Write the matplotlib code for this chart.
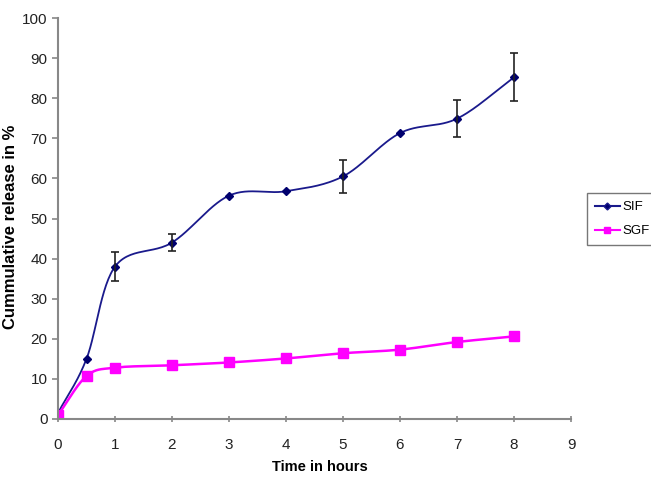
import numpy as np
import matplotlib.pyplot as plt

plt.rcParams['font.family'] = ['Liberation Sans', 'DejaVu Sans']

hours = [0, 0.5, 1, 2, 3, 4, 5, 6, 7, 8]
sif = [1.5, 15.0, 38.0, 44.0, 55.7, 56.8, 60.5, 71.3, 74.9, 85.2]
sif_err = [0, 0, 3.7, 2.2, 0, 0, 4.2, 0, 4.7, 6.0]
sgf = [1.0, 10.7, 12.8, 13.4, 14.1, 15.1, 16.4, 17.3, 19.2, 20.6]


def smooth(x, y, n=30):
    # Catmull-Rom style curve through the points (like Excel's smoothed line)
    x = np.asarray(x, float)
    y = np.asarray(y, float)
    px = np.concatenate([[2 * x[0] - x[1]], x, [2 * x[-1] - x[-2]]])
    py = np.concatenate([[2 * y[0] - y[1]], y, [2 * y[-1] - y[-2]]])
    xs, ys = [], []
    t = np.linspace(0, 1, n)
    for i in range(1, len(px) - 2):
        p0x, p1x, p2x, p3x = px[i - 1:i + 3]
        p0y, p1y, p2y, p3y = py[i - 1:i + 3]
        # bezier control points
        c1x = p1x + (p2x - p0x) / 6
        c1y = p1y + (p2y - p0y) / 6
        c2x = p2x - (p3x - p1x) / 6
        c2y = p2y - (p3y - p1y) / 6
        bx = (1 - t) ** 3 * p1x + 3 * (1 - t) ** 2 * t * c1x + 3 * (1 - t) * t ** 2 * c2x + t ** 3 * p2x
        by = (1 - t) ** 3 * p1y + 3 * (1 - t) ** 2 * t * c1y + 3 * (1 - t) * t ** 2 * c2y + t ** 3 * p2y
        xs.extend(bx)
        ys.extend(by)
    return xs, ys


fig = plt.figure(figsize=(6.51, 4.79), dpi=100)
ax = fig.add_axes([58 / 651, 60 / 479, 513 / 651, 401 / 479])

blue = '#1a1a8c'
pink = '#ff00ff'

sx, sy = smooth(hours, sif)
ax.plot(sx, sy, color=blue, lw=1.3)
ax.plot(hours, sif, 'D', color='#00006e', ms=4.5)
err_idx = [i for i, e in enumerate(sif_err) if e > 0]
ax.errorbar([hours[i] for i in err_idx], [sif[i] for i in err_idx],
            yerr=[sif_err[i] for i in err_idx], fmt='none', ecolor='#222222',
            elinewidth=1.2, capsize=3, capthick=1.2)

gx, gy = smooth(hours, sgf)
ax.plot(gx, gy, color=pink, lw=1.8)
ax.plot(hours, sgf, 's', color=pink, ms=6.5)

# legend proxies
h1, = ax.plot([], [], color=blue, marker='D', ms=3.5, mfc='#00006e', label='SIF')
h2, = ax.plot([], [], color=pink, marker='s', ms=5, label='SGF')
leg = ax.legend(handles=[h1, h2], loc='upper left', bbox_to_anchor=(587 / 651, 286 / 479),
                bbox_transform=fig.transFigure, frameon=True, fancybox=False,
                fontsize=9.5, handlelength=1.9, handletextpad=0.2, borderpad=0.6,
                borderaxespad=0, labelspacing=0.9)
leg.get_frame().set_edgecolor('#555555')
leg.get_frame().set_linewidth(1.0)

ax.set_xlim(0, 9)
ax.set_ylim(0, 100)
ax.set_xticks(range(0, 10))
ax.set_yticks(range(0, 101, 10))
for s in ['top', 'right']:
    ax.spines[s].set_visible(False)
for s in ['left', 'bottom']:
    ax.spines[s].set_color('#888888')
    ax.spines[s].set_linewidth(1.5)
ax.tick_params(axis='both', colors='#888888', labelcolor='#222222', labelsize=11,
               length=4, width=1.2)
ax.tick_params(axis='x', direction='inout', pad=12)
ax.set_xlabel('Time in hours', fontsize=10.5, fontweight='bold')
ax.set_ylabel('Cummulative release in %', fontsize=12, fontweight='bold')
ax.xaxis.set_label_coords(0.51, -0.102)
ax.yaxis.set_label_coords(-0.078, 0.479)

fig.savefig('out.png', dpi=100)
